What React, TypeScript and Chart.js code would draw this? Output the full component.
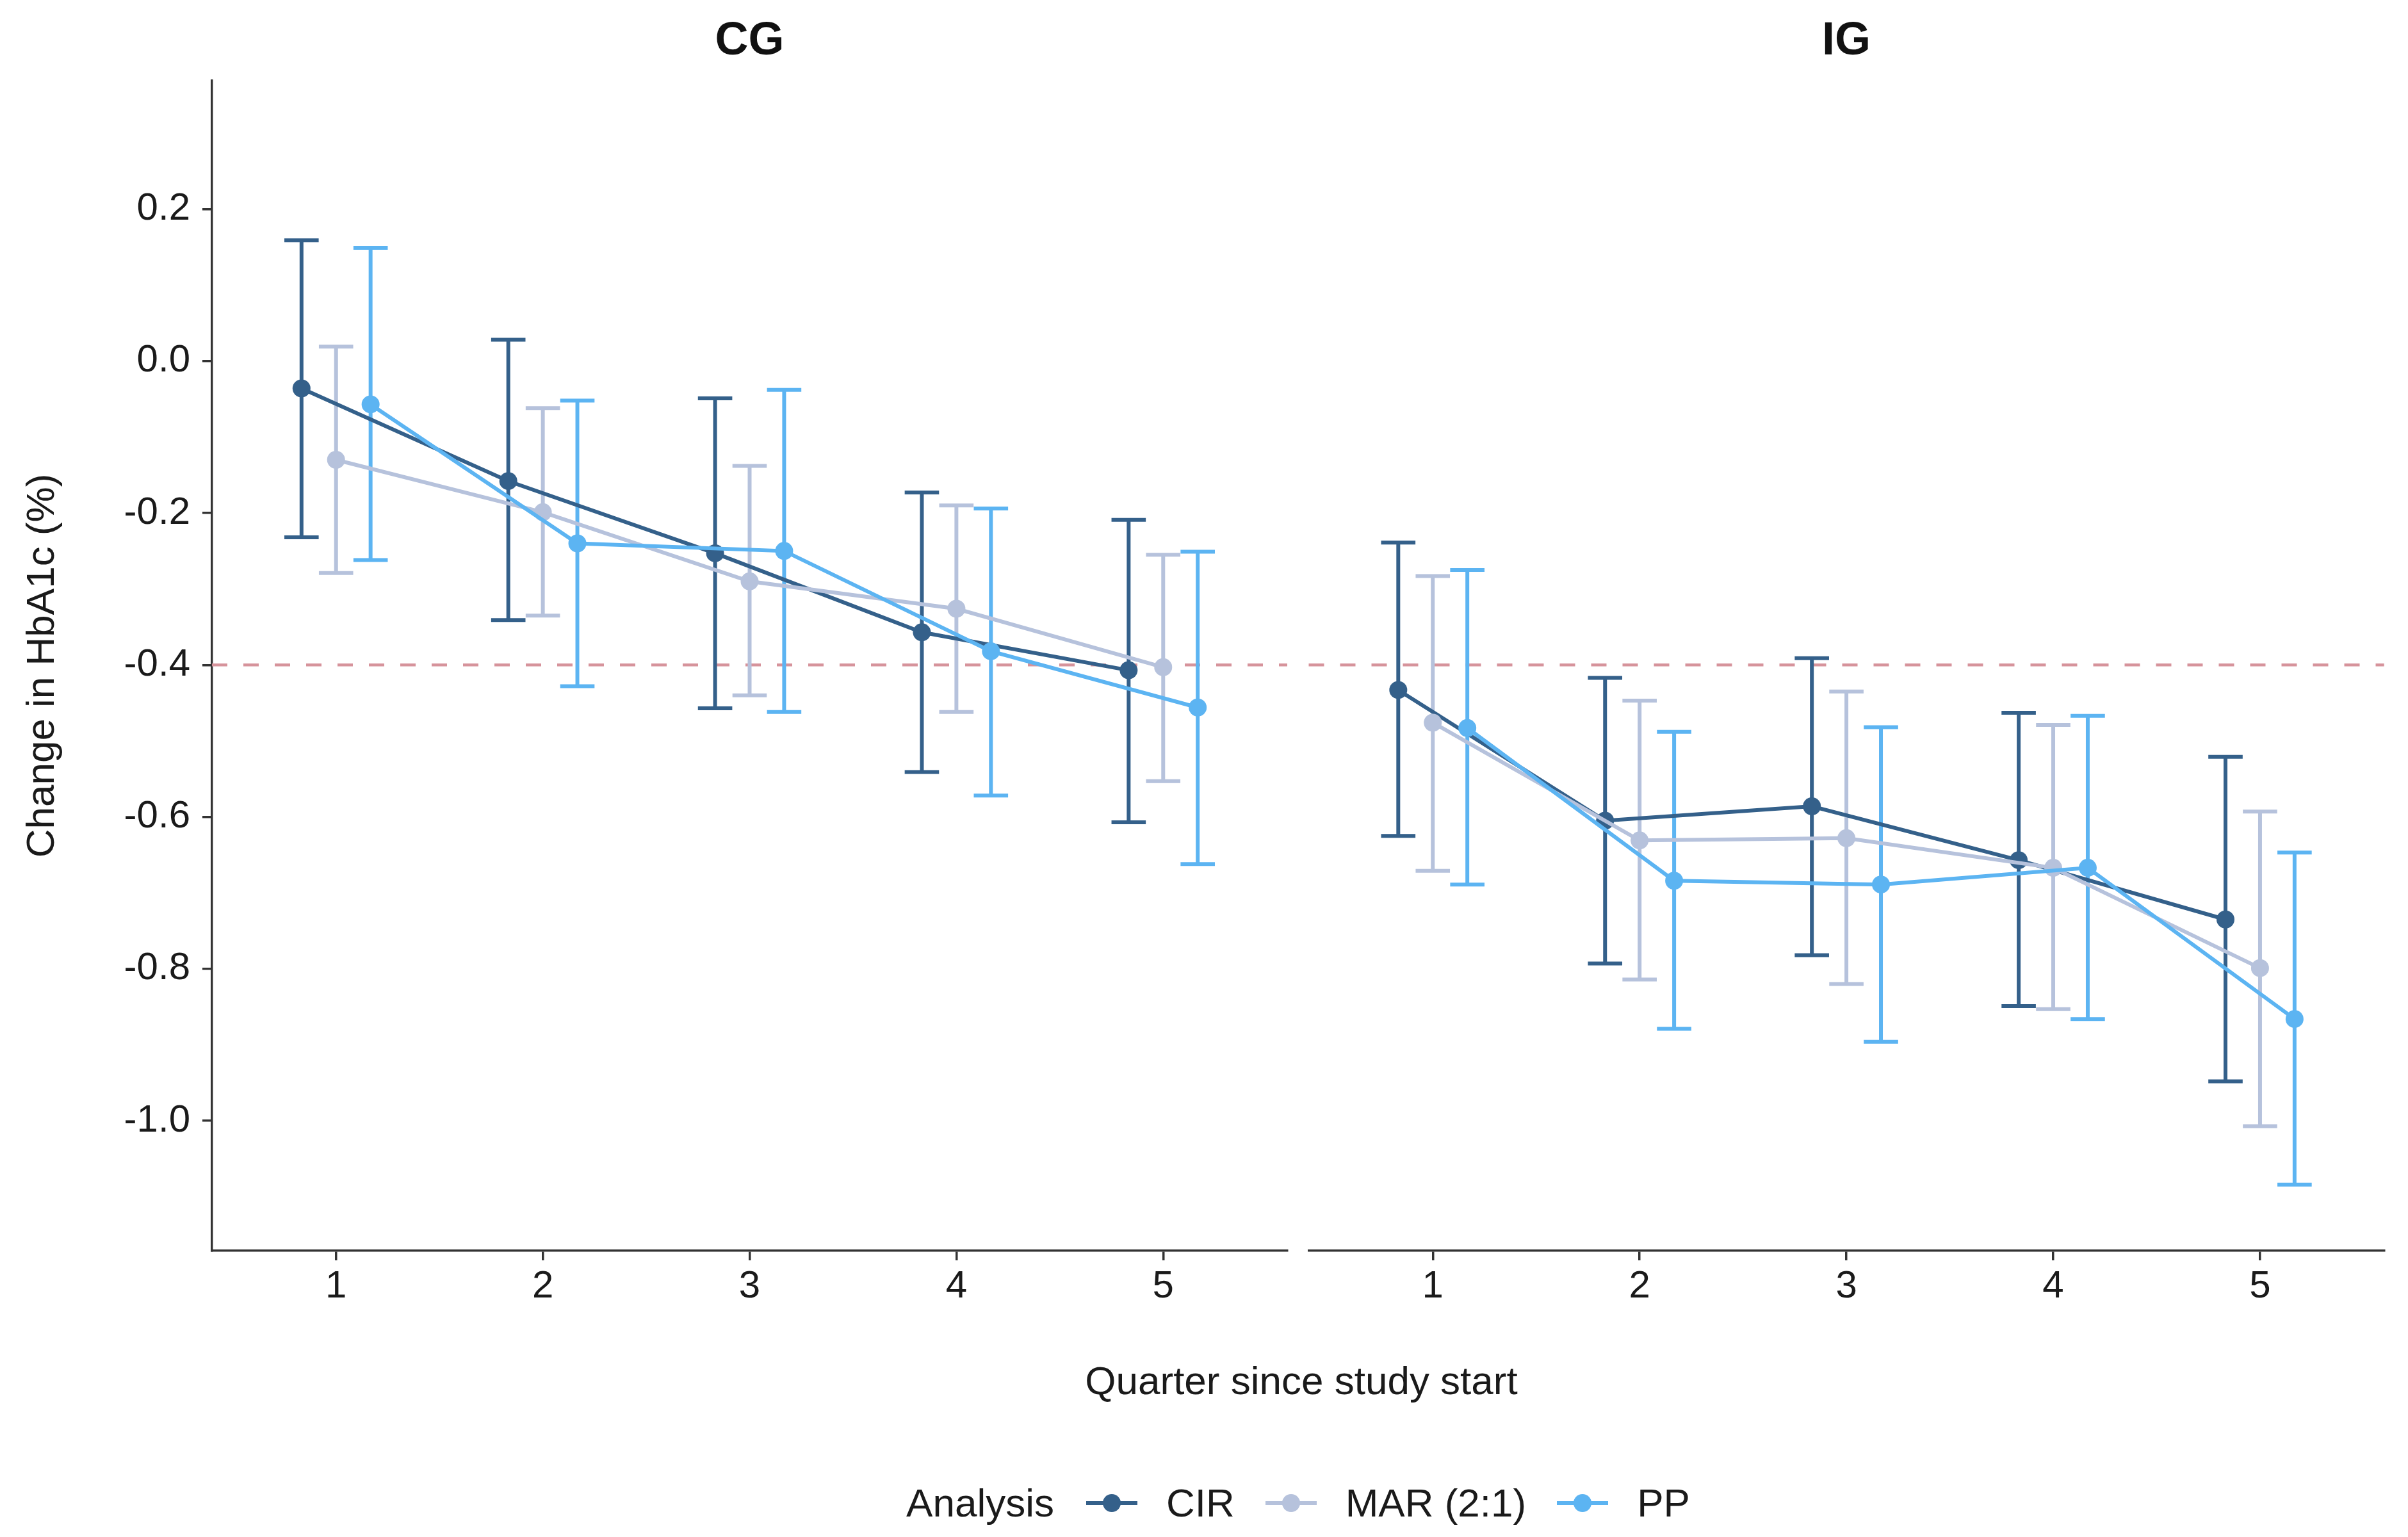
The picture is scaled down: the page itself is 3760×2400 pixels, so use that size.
import React, { useEffect, useRef } from "react";
import { Chart, registerables } from "chart.js";

Chart.register(...registerables);

// ---------- data ----------
const quarters = [1, 2, 3, 4, 5];
const xTicks = [1, 2, 3, 4, 5];
const yTicks = [-1.0, -0.8, -0.6, -0.4, -0.2, 0.0, 0.2];
const seriesNames = ["CIR", "MAR (2:1)", "PP"];
const seriesColors = ["#34608a", "#b6c2dc", "#5cb4f2"];
const dodge = [-0.167, 0, 0.167];
const targetLine = -0.4;

// CG panel
const cgCIRMean = [-0.036, -0.158, -0.253, -0.357, -0.407];
const cgCIRLower = [-0.232, -0.341, -0.457, -0.541, -0.607];
const cgCIRUpper = [0.159, 0.028, -0.049, -0.173, -0.209];
const cgMARMean = [-0.130, -0.199, -0.290, -0.326, -0.403];
const cgMARLower = [-0.279, -0.335, -0.440, -0.462, -0.553];
const cgMARUpper = [0.019, -0.062, -0.138, -0.190, -0.255];
const cgPPMean = [-0.057, -0.240, -0.250, -0.382, -0.456];
const cgPPLower = [-0.262, -0.428, -0.462, -0.572, -0.662];
const cgPPUpper = [0.149, -0.052, -0.038, -0.194, -0.251];

// IG panel
const igCIRMean = [-0.433, -0.605, -0.586, -0.657, -0.735];
const igCIRLower = [-0.625, -0.793, -0.782, -0.849, -0.948];
const igCIRUpper = [-0.239, -0.417, -0.391, -0.463, -0.521];
const igMARMean = [-0.476, -0.631, -0.628, -0.667, -0.799];
const igMARLower = [-0.671, -0.814, -0.820, -0.853, -1.007];
const igMARUpper = [-0.283, -0.447, -0.435, -0.479, -0.593];
const igPPMean = [-0.483, -0.684, -0.689, -0.667, -0.866];
const igPPLower = [-0.689, -0.879, -0.896, -0.866, -1.084];
const igPPUpper = [-0.275, -0.488, -0.482, -0.467, -0.647];

const Y_MIN = -1.171;
const Y_MAX = 0.369;
const X_MIN = 0.4;
const X_MAX = 5.6;
const CAP_HALF = 0.083;

const FONT = "'Liberation Sans', Arial, Helvetica, sans-serif";
const AXIS_COLOR = "#333333";
const TEXT_COLOR = "#1a1a1a";

const CANVAS_H = 2080;

type Series = { mean: number[]; lower: number[]; upper: number[] };

const refLinePlugin = {
  id: "refLine",
  beforeDatasetsDraw(chart: any) {
    const { ctx, chartArea, scales } = chart;
    const y = scales.y.getPixelForValue(targetLine);
    ctx.save();
    ctx.strokeStyle = "#d6939b";
    ctx.lineWidth = 4.5;
    ctx.setLineDash([24, 25]);
    ctx.beginPath();
    ctx.moveTo(chartArea.left, y);
    ctx.lineTo(chartArea.right, y);
    ctx.stroke();
    ctx.restore();
  },
};

const errorBarPlugin = {
  id: "errorBars",
  beforeDatasetsDraw(chart: any) {
    const { ctx, scales } = chart;
    chart.data.datasets.forEach((ds: any) => {
      ctx.save();
      ctx.strokeStyle = ds.borderColor;
      ctx.lineWidth = 6;
      ctx.setLineDash([]);
      ds.data.forEach((pt: any, i: number) => {
        const x = scales.x.getPixelForValue(pt.x);
        const hw = scales.x.getPixelForValue(pt.x + CAP_HALF) - x;
        const yLo = scales.y.getPixelForValue(ds.errLow[i]);
        const yHi = scales.y.getPixelForValue(ds.errHigh[i]);
        ctx.beginPath();
        ctx.moveTo(x, yLo);
        ctx.lineTo(x, yHi);
        ctx.moveTo(x - hw, yLo);
        ctx.lineTo(x + hw, yLo);
        ctx.moveTo(x - hw, yHi);
        ctx.lineTo(x + hw, yHi);
        ctx.stroke();
      });
      ctx.restore();
    });
  },
};

function Panel(props: {
  title: string;
  series: Series[];
  showY: boolean;
  left: number;
  width: number;
  padLeft: number;
  padRight: number;
}) {
  const ref = useRef<HTMLCanvasElement | null>(null);
  useEffect(() => {
    if (!ref.current) return;
    const datasets = props.series.map((s, si) => ({
      label: seriesNames[si],
      data: quarters.map((q, i) => ({ x: q + dodge[si], y: s.mean[i] })),
      errLow: s.lower,
      errHigh: s.upper,
      borderColor: seriesColors[si],
      backgroundColor: seriesColors[si],
      pointBackgroundColor: seriesColors[si],
      pointBorderWidth: 0,
      pointRadius: 14,
      borderWidth: 6,
      showLine: true,
      tension: 0,
      order: 3 - si,
    }));
    const chart = new Chart(ref.current, {
      type: "scatter",
      data: { datasets: datasets as any },
      plugins: [refLinePlugin, errorBarPlugin],
      options: {
        animation: false,
        responsive: false,
        devicePixelRatio: 1,
        events: [],
        layout: { padding: { left: props.padLeft, right: props.padRight, top: 0, bottom: 0 } },
        plugins: {
          legend: { display: false },
          tooltip: { enabled: false },
          title: {
            display: true,
            text: props.title,
            fullSize: false,
            color: "#111111",
            font: { family: FONT, size: 72, weight: "bold" },
            padding: { top: 22, bottom: 17.6 },
          },
        },
        scales: {
          x: {
            type: "linear",
            min: X_MIN,
            max: X_MAX,
            afterBuildTicks: (s: any) => {
              s.ticks = xTicks.map((v) => ({ value: v }));
            },
            afterFit: (s: any) => {
              s.height = CANVAS_H - 1953;
            },
            ticks: {
              autoSkip: false,
              maxRotation: 0,
              padding: 5,
              color: TEXT_COLOR,
              font: { family: FONT, size: 60 },
              callback: (v: any) => String(v),
            },
            grid: {
              drawOnChartArea: false,
              drawTicks: true,
              tickLength: 15,
              color: AXIS_COLOR,
              tickColor: AXIS_COLOR,
              lineWidth: 3.5,
            },
            border: { display: true, color: AXIS_COLOR, width: 3.5 },
          },
          y: {
            type: "linear",
            display: props.showY,
            min: Y_MIN,
            max: Y_MAX,
            afterBuildTicks: (s: any) => {
              s.ticks = yTicks.map((v) => ({ value: v }));
            },
            afterFit: (s: any) => {
              if (props.showY) s.width = 331;
            },
            ticks: {
              autoSkip: false,
              padding: 19,
              color: TEXT_COLOR,
              font: { family: FONT, size: 60 },
              callback: (v: any) => Number(v).toFixed(1),
            },
            grid: {
              drawOnChartArea: false,
              drawTicks: true,
              tickLength: 15,
              color: AXIS_COLOR,
              tickColor: AXIS_COLOR,
              lineWidth: 3.5,
            },
            border: { display: true, color: AXIS_COLOR, width: 3.5 },
            title: {
              display: true,
              text: "Change in HbA1c (%)",
              color: TEXT_COLOR,
              font: { family: FONT, size: 62 },
              padding: { top: 30, bottom: 0 },
            },
          },
        },
      } as any,
    });
    return () => chart.destroy();
  }, []);
  return (
    <canvas
      ref={ref}
      width={props.width}
      height={CANVAS_H}
      style={{ position: "absolute", left: props.left, top: 0, width: props.width, height: CANVAS_H }}
    />
  );
}

export default function App() {
  const cgSeries: Series[] = [
    { mean: cgCIRMean, lower: cgCIRLower, upper: cgCIRUpper },
    { mean: cgMARMean, lower: cgMARLower, upper: cgMARUpper },
    { mean: cgPPMean, lower: cgPPLower, upper: cgPPUpper },
  ];
  const igSeries: Series[] = [
    { mean: igCIRMean, lower: igCIRLower, upper: igCIRUpper },
    { mean: igMARMean, lower: igMARLower, upper: igMARUpper },
    { mean: igPPMean, lower: igPPLower, upper: igPPUpper },
  ];
  return (
    <div
      style={{
        position: "fixed",
        left: 0,
        top: 0,
        width: 3760,
        height: 2400,
        background: "#ffffff",
        overflow: "hidden",
        fontFamily: FONT,
      }}
    >
      <Panel title="CG" series={cgSeries} showY={true} left={0} width={2027} padLeft={0} padRight={17} />
      <Panel title="IG" series={igSeries} showY={false} left={2027} width={1733} padLeft={16.5} padRight={37.3} />
      <div
        style={{
          position: "absolute",
          left: 332,
          width: 3400,
          top: 2125,
          textAlign: "center",
          fontSize: 62,
          lineHeight: "62px",
          color: TEXT_COLOR,
          whiteSpace: "nowrap",
        }}
      >
        Quarter since study start
      </div>
      <div
        style={{
          position: "absolute",
          left: 327,
          width: 3400,
          top: 2316,
          height: 62,
          display: "flex",
          justifyContent: "center",
          alignItems: "center",
          fontSize: 62,
          lineHeight: "62px",
          color: TEXT_COLOR,
          whiteSpace: "nowrap",
        }}
      >
        <span style={{ marginRight: 50 }}>Analysis</span>
        {seriesNames.map((n, i) => (
          <React.Fragment key={n}>
            <span style={{ position: "relative", display: "inline-block", width: 80, height: 28, marginRight: 45 }}>
              <span
                style={{ position: "absolute", left: 0, right: 0, top: 11, height: 6, background: seriesColors[i] }}
              />
              <span
                style={{
                  position: "absolute",
                  left: 26,
                  top: 0,
                  width: 28,
                  height: 28,
                  borderRadius: "50%",
                  background: seriesColors[i],
                }}
              />
            </span>
            <span style={{ marginRight: i < seriesNames.length - 1 ? 48 : 0 }}>{n}</span>
          </React.Fragment>
        ))}
      </div>
    </div>
  );
}
